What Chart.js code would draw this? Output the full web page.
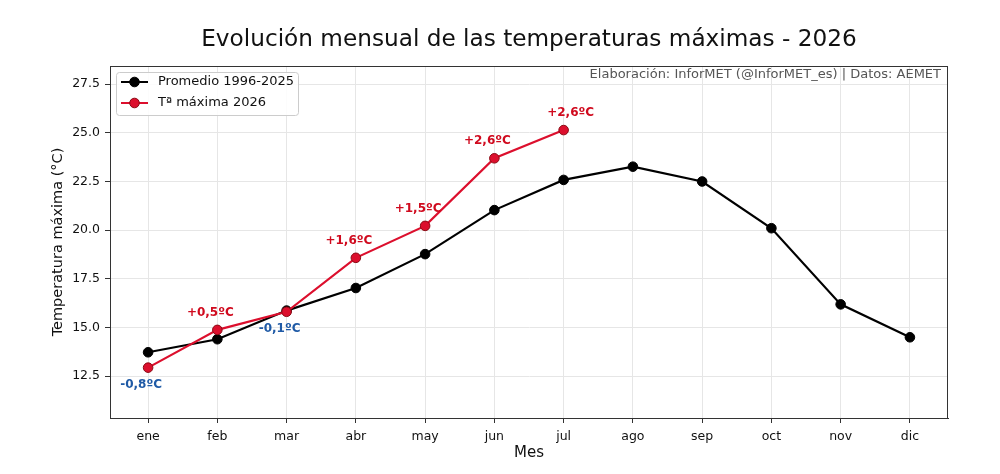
<!DOCTYPE html>
<html>
<head>
<meta charset="utf-8">
<script src="https://cdn.jsdelivr.net/npm/chart.js@4.4.1/dist/chart.umd.min.js"></script>
<style>
  html, body { margin: 0; padding: 0; background: #fff; }
  canvas { display: block; }
</style>
</head>
<body>
<canvas id="tempChart" width="1000" height="474"></canvas>
<script>
// Datos
const meses = ['ene', 'feb', 'mar', 'abr', 'may', 'jun', 'jul', 'ago', 'sep', 'oct', 'nov', 'dic'];
const promedio = [13.73, 14.40, 15.87, 17.03, 18.77, 21.03, 22.58, 23.26, 22.50, 20.10, 16.19, 14.50];
const maxima2026 = [12.94, 14.88, 15.81, 18.58, 20.22, 23.69, 25.14];
const anomalias = [-0.8, 0.5, -0.1, 1.6, 1.5, 2.6, 2.6];
const yTicks = [12.5, 15.0, 17.5, 20.0, 22.5, 25.0, 27.5];

const FONT = 'DejaVu Sans';
const ROJO = '#dc0f2d';
const ROJO_TXT = '#d00a1e';
const AZUL_TXT = '#1f5aa6';

function fmtAnom(v) {
    return (v > 0 ? '+' : '') + v.toFixed(1).replace('.', ',') + 'ºC';
}

// Textos, leyenda, marco y anotaciones
const extras = {
    id: 'extras',
    afterDatasetsDraw(chart) {
        const ctx = chart.ctx;
        const x = chart.scales.x, y = chart.scales.y;
        ctx.save();
        ctx.font = 'bold 12px ' + FONT;
        ctx.textAlign = 'center';
        ctx.textBaseline = 'middle';
        anomalias.forEach((a, i) => {
            const px = x.getPixelForValue(i);
            const py = y.getPixelForValue(maxima2026[i]);
            const dx = (i === anomalias.length - 1) ? 7 : -7;
            ctx.fillStyle = a >= 0 ? ROJO_TXT : AZUL_TXT;
            ctx.fillText(fmtAnom(a), px + dx, a >= 0 ? py - 17 : py + 17);
        });
        ctx.restore();
    },
    afterDraw(chart) {
        const ctx = chart.ctx;
        const area = chart.chartArea;
        ctx.save();

        // marco
        ctx.strokeStyle = '#333';
        ctx.lineWidth = 1;
        ctx.strokeRect(area.left + 0.5, area.top + 0.5, area.right - area.left - 1, area.bottom - area.top);

        // título
        ctx.fillStyle = '#111';
        ctx.font = '23.2px ' + FONT;
        ctx.textAlign = 'center';
        ctx.textBaseline = 'alphabetic';
        ctx.fillText('Evolución mensual de las temperaturas máximas - 2026', (area.left + area.right) / 2, 46);

        // fuente
        ctx.fillStyle = '#555';
        ctx.font = '13px ' + FONT;
        ctx.textAlign = 'right';
        ctx.textBaseline = 'middle';
        ctx.fillText('Elaboración: InforMET (@InforMET_es) | Datos: AEMET', area.right - 7, 75);

        // leyenda
        const lx = area.left + 6, ly = area.top + 6;
        ctx.fillStyle = 'rgba(255,255,255,0.85)';
        ctx.strokeStyle = '#cccccc';
        ctx.beginPath();
        ctx.roundRect(lx + 0.5, ly + 0.5, 182, 43, 3);
        ctx.fill();
        ctx.stroke();
        chart.data.datasets.slice().sort((a, b) => a.legendPos - b.legendPos).forEach((ds, k) => {
            const cy = ly + 10 + k * 21;
            ctx.strokeStyle = ds.borderColor;
            ctx.lineWidth = 2;
            ctx.beginPath();
            ctx.moveTo(lx + 5, cy);
            ctx.lineTo(lx + 32, cy);
            ctx.stroke();
            ctx.fillStyle = ds.pointBackgroundColor;
            ctx.strokeStyle = ds.pointBorderColor;
            ctx.lineWidth = 1;
            ctx.beginPath();
            ctx.arc(lx + 18.5, cy, 4.8, 0, Math.PI * 2);
            ctx.fill();
            ctx.stroke();
            ctx.fillStyle = '#111';
            ctx.font = '13px ' + FONT;
            ctx.textAlign = 'left';
            ctx.fillText(ds.label, lx + 42, cy);
        });
        ctx.restore();
    }
};

const ctx = document.getElementById('tempChart').getContext('2d');
const tempChart = new Chart(ctx, {
    type: 'line',
    data: {
        datasets: [{
            label: 'Promedio 1996-2025',
            legendPos: 0,
            order: 2,
            data: promedio.map((v, i) => ({ x: i, y: v })),
            borderColor: '#000000',
            borderWidth: 2.2,
            pointBackgroundColor: '#000000',
            pointBorderColor: '#000000',
            pointBorderWidth: 1,
            pointRadius: 4.8,
            tension: 0
        }, {
            label: 'Tª máxima 2026',
            legendPos: 1,
            order: 1,
            data: maxima2026.map((v, i) => ({ x: i, y: v })),
            borderColor: ROJO,
            borderWidth: 2.2,
            pointBackgroundColor: ROJO,
            pointBorderColor: '#8a0a14',
            pointBorderWidth: 1,
            pointRadius: 4.8,
            tension: 0
        }]
    },
    options: {
        responsive: false,
        animation: false,
        layout: { padding: { top: 66, right: 52, left: 0, bottom: 0 } },
        plugins: {
            legend: { display: false },
            tooltip: { enabled: false },
            title: { display: false }
        },
        scales: {
            x: {
                type: 'linear',
                min: -0.55,
                max: 11.55,
                afterBuildTicks: (s) => { s.ticks = meses.map((m, i) => ({ value: i })); },
                afterFit: (s) => { s.height = 56; },
                ticks: {
                    callback: (v) => meses[v],
                    color: '#111',
                    font: { family: FONT, size: 12.5 },
                    padding: 6,
                    maxRotation: 0,
                    autoSkip: false
                },
                grid: { color: '#e6e6e6', tickColor: '#333', tickLength: 5 },
                border: { color: '#333' },
                title: {
                    display: true,
                    text: 'Mes',
                    color: '#111',
                    font: { family: FONT, size: 15 },
                    padding: { top: 0, bottom: 12 }
                }
            },
            y: {
                min: 10.355,
                max: 28.43,
                afterBuildTicks: (s) => { s.ticks = yTicks.map(v => ({ value: v })); },
                afterFit: (s) => { s.width = 110; },
                ticks: {
                    callback: (v) => v.toFixed(1),
                    color: '#111',
                    font: { family: FONT, size: 12.5 },
                    padding: 5
                },
                grid: { color: '#e6e6e6', tickColor: '#333', tickLength: 5 },
                border: { color: '#333' },
                title: {
                    display: true,
                    text: 'Temperatura máxima (°C)',
                    color: '#111',
                    font: { family: FONT, size: 14.5 },
                    padding: { top: 50, bottom: 0 }
                }
            }
        }
    },
    plugins: [extras]
});
</script>
</body>
</html>
